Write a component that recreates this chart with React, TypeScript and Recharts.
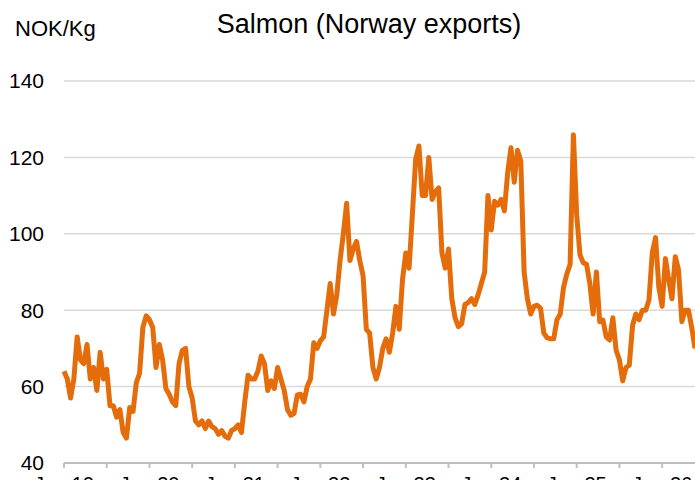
import { LineChart, Line, XAxis, YAxis, CartesianGrid } from "recharts";

// fortnightly export price, NOK/kg, starting first week of Jan 2019
const y2019 = [64, 62, 57, 62, 73, 67, 66, 71, 62, 65, 59, 69, 62, 64.5, 55, 55, 52, 54, 48, 46.5, 54.5, 53.5, 61, 63.5, 75.5, 78.5];
const y2020 = [77.5, 75.5, 65, 71, 67, 59.5, 58, 56, 55, 66, 69.5, 70, 60, 57, 51, 50, 51, 49, 51, 49.5, 49, 47.5, 48.5, 47, 46.5, 48.5];
const y2021 = [49, 50, 48, 56, 63, 62, 62, 64, 68, 66, 59, 61.5, 59.5, 65, 62, 59, 54, 52.5, 53, 57.8, 58, 56, 60, 62, 71.5, 70];
const y2022 = [72, 73, 80, 87, 79, 84, 93, 100, 108, 93, 96, 98, 93, 89, 75, 74, 65, 62, 65, 70, 72.5, 69, 74, 81, 75, 88];
const y2023 = [95, 91, 105, 119.5, 123, 110, 110, 120, 109, 111, 112, 95, 91, 96, 83, 78, 75.7, 76.5, 81.5, 82, 83, 81.5, 84, 87, 90, 110];
const y2024 = [101, 108.5, 107.5, 109, 106, 116, 122.5, 113.5, 121.9, 119, 90, 83, 79, 81, 81.3, 80.5, 74, 72.8, 72.5, 72.5, 77.5, 79, 86, 89.5, 92, 125.9];
const y2025 = [105, 94.5, 92.4, 92, 87, 79, 90, 77, 77.4, 73, 72.2, 78, 69.5, 67, 61.5, 65, 65.6, 76, 79, 77.5, 80, 80, 82.7, 95, 99, 86];
const y2026 = [81, 93.5, 88, 83, 94, 90.5, 77, 80, 80, 75.5, 70];

const prices = [...y2019, ...y2020, ...y2021, ...y2022, ...y2023, ...y2024, ...y2025, ...y2026];
const data = prices.map((price, i) => ({ i, price }));

const xTicks = [0, 13, 26, 39, 52, 65, 78, 91, 104, 117, 130, 143, 156, 169, 182];
const xLabels = ["Jan 19", "", "Jan 20", "", "Jan 21", "", "Jan 22", "", "Jan 23", "", "Jan 24", "", "Jan 25", "", "Jan 26"];
const yTicks = [40, 60, 80, 100, 120, 140];

const font = '"Liberation Sans", Arial, sans-serif';

export default function App() {
  return (
    <div
      style={{
        position: "absolute",
        left: 0,
        top: 0,
        width: 695,
        height: 480,
        overflow: "hidden",
        background: "#fff",
        fontFamily: font,
      }}
    >
      <div
        style={{
          position: "absolute",
          left: 0,
          width: 738,
          top: 11,
          textAlign: "center",
          fontSize: 27,
          lineHeight: 1,
          color: "#000",
        }}
      >
        Salmon (Norway exports)
      </div>
      <div style={{ position: "absolute", left: 15, top: 18, fontSize: 22, lineHeight: 1, color: "#000" }}>
        NOK/Kg
      </div>

      <LineChart width={695} height={480} data={data} margin={{ top: 81, right: 0, left: 0, bottom: 0 }}>
        <CartesianGrid horizontal vertical={false} stroke="#d9d9d9" strokeWidth={1.5} />
        <XAxis
          dataKey="i"
          type="number"
          domain={[0, 192]}
          ticks={xTicks}
          tickFormatter={(v: number) => xLabels[xTicks.indexOf(v)] ?? ""}
          interval={0}
          height={17}
          stroke="#bfbfbf"
          strokeWidth={2}
          tickSize={5}
          tickMargin={9}
          tick={{ fill: "#000", fontSize: 20, fontFamily: font }}
        />
        <YAxis
          domain={[40, 140]}
          ticks={yTicks}
          width={64}
          axisLine={false}
          tickLine={false}
          tickMargin={14}
          tick={{ fill: "#000", fontSize: 21, fontFamily: font }}
        />
        <Line
          type="linear"
          dataKey="price"
          stroke="#E46C0A"
          strokeWidth={5}
          strokeLinejoin="round"
          dot={false}
          isAnimationActive={false}
        />
      </LineChart>
    </div>
  );
}
